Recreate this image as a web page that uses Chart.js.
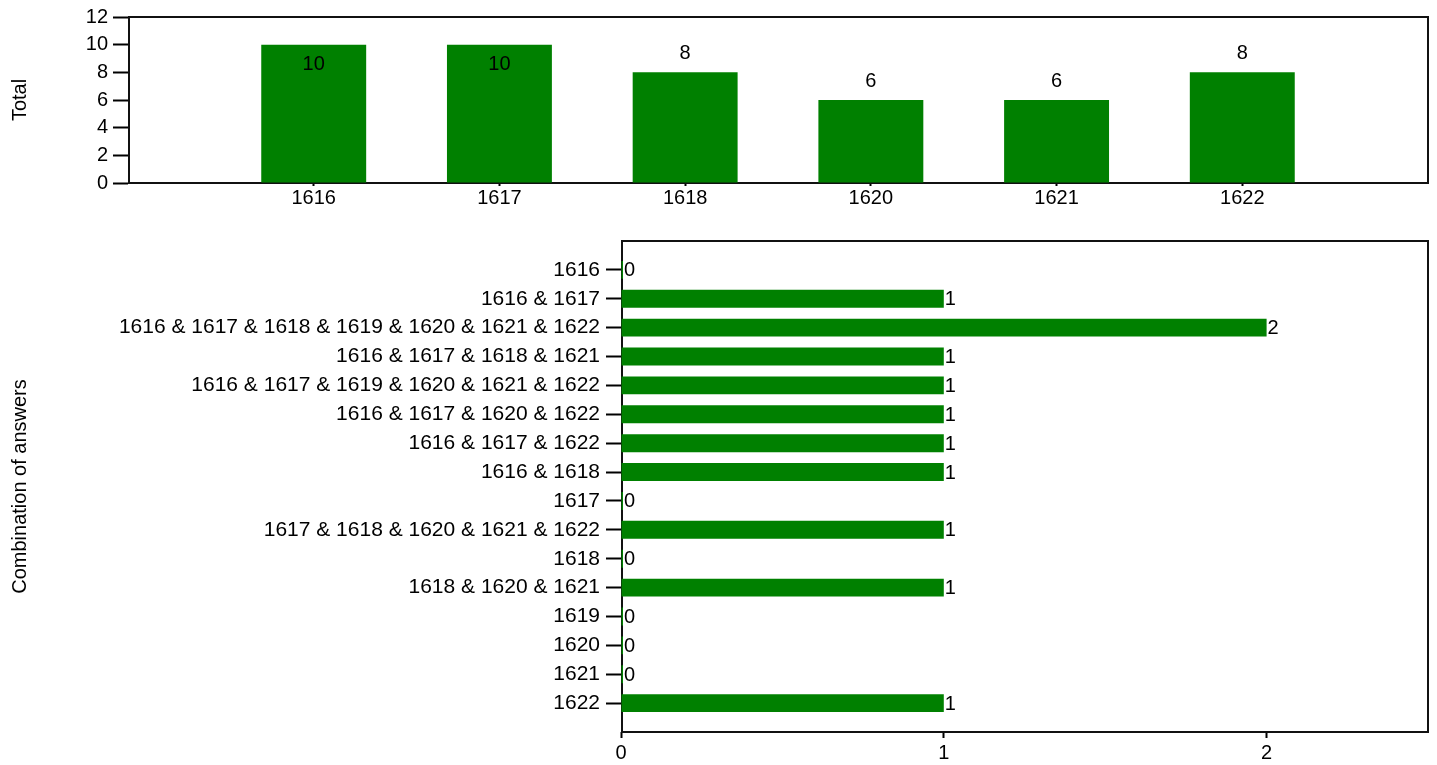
<!DOCTYPE html>
<html>
<head>
<meta charset="utf-8">
<script src="https://cdn.jsdelivr.net/npm/chart.js@4.4.1/dist/chart.umd.min.js"></script>
<style>
  html, body { margin: 0; padding: 0; background: #fff; }
  #wrap { position: relative; width: 1437px; height: 765px; overflow: hidden; }
  canvas { position: absolute; left: 0; }
  #totalChart { top: 0; }
  #comboChart { top: 215px; }
</style>
</head>
<body>
<div id="wrap">
  <canvas id="totalChart" width="1437" height="215"></canvas>
  <canvas id="comboChart" width="1437" height="550"></canvas>
</div>
<script>
// totals per year
const years = ['1616', '1617', '1618', '1620', '1621', '1622'];
const totals = [10, 10, 8, 6, 6, 8];
const totalTicks = [0, 2, 4, 6, 8, 10, 12];

// answer combinations and how often each was given
const combos = [
  '1616',
  '1616 & 1617',
  '1616 & 1617 & 1618 & 1619 & 1620 & 1621 & 1622',
  '1616 & 1617 & 1618 & 1621',
  '1616 & 1617 & 1619 & 1620 & 1621 & 1622',
  '1616 & 1617 & 1620 & 1622',
  '1616 & 1617 & 1622',
  '1616 & 1618',
  '1617',
  '1617 & 1618 & 1620 & 1621 & 1622',
  '1618',
  '1618 & 1620 & 1621',
  '1619',
  '1620',
  '1621',
  '1622',
];
const comboCounts = [0, 1, 2, 1, 1, 1, 1, 1, 0, 1, 0, 1, 0, 0, 0, 1];
const countTicks = [0, 1, 2];

const GREEN = '#008000';
const FONT = '"Liberation Sans", Arial, sans-serif';

Chart.defaults.font.family = FONT;
Chart.defaults.font.size = 20;
Chart.defaults.color = '#000';

// an empty slot at each end leaves a gap of one category before and after the bars
const padCats = (arr) => ['', ...arr, ''];
const padVals = (arr) => [null, ...arr, null];

const hideEmptyTick = (ctx) => (ctx.tick && ctx.tick.label === '' ? 'rgba(0,0,0,0)' : '#000');

const framePlugin = {
  id: 'frame',
  beforeDatasetsDraw(chart) {
    const { ctx, chartArea: a } = chart;
    ctx.save();
    ctx.strokeStyle = '#111';
    ctx.lineWidth = 2;
    ctx.strokeRect(a.left + 1, a.top, a.right - a.left - 1, a.bottom - a.top);
    ctx.restore();
  },
};

const valueLabels = {
  id: 'valueLabels',
  afterDatasetsDraw(chart) {
    const { ctx, chartArea } = chart;
    const horizontal = chart.options.indexAxis === 'y';
    const values = chart.data.datasets[0].data;
    ctx.save();
    ctx.fillStyle = '#000';
    ctx.font = '20px ' + FONT;
    chart.getDatasetMeta(0).data.forEach((bar, i) => {
      const v = values[i];
      if (v == null) return;
      if (horizontal) {
        ctx.textAlign = 'left';
        ctx.textBaseline = 'middle';
        ctx.fillText(String(v), bar.x + 1, bar.y + 1);
      } else {
        ctx.textAlign = 'center';
        ctx.textBaseline = 'alphabetic';
        // tall bars get their label inside the top of the bar
        const inside = bar.y - 30 < chartArea.top;
        ctx.fillText(String(v), bar.x, inside ? bar.y + 25 : bar.y - 13);
      }
    });
    ctx.restore();
  },
};

function axisGrid(len) {
  return {
    display: true,
    offset: false,
    drawOnChartArea: false,
    drawTicks: true,
    tickLength: len,
    tickWidth: 2,
    color: hideEmptyTick,
    tickColor: hideEmptyTick,
  };
}

new Chart(document.getElementById('totalChart'), {
  type: 'bar',
  data: {
    labels: padCats(years),
    datasets: [{
      data: padVals(totals),
      backgroundColor: GREEN,
      borderWidth: 0,
      categoryPercentage: 1,
      barPercentage: 0.565,
    }],
  },
  options: {
    responsive: false,
    animation: false,
    layout: { padding: { top: 17, right: 9, left: 0, bottom: 0 } },
    plugins: { legend: { display: false }, tooltip: { enabled: false } },
    scales: {
      x: {
        offset: false,
        grid: axisGrid(3),
        border: { display: false },
        ticks: { padding: 0, autoSkip: false, maxRotation: 0 },
        afterFit: (s) => { s.height = 32; },
      },
      y: {
        min: 0,
        max: 12,
        grid: axisGrid(15),
        border: { display: false },
        ticks: { padding: 5 },
        afterBuildTicks: (s) => { s.ticks = totalTicks.map((v) => ({ value: v })); },
        title: { display: true, text: 'Total', font: { size: 20 }, padding: { top: 8, bottom: 0 } },
        afterFit: (s) => { s.width = 128; },
      },
    },
  },
  plugins: [framePlugin, valueLabels],
});

new Chart(document.getElementById('comboChart'), {
  type: 'bar',
  data: {
    labels: padCats(combos),
    datasets: [{
      data: padVals(comboCounts),
      backgroundColor: GREEN,
      borderWidth: 0,
      categoryPercentage: 1,
      barPercentage: 0.62,
      minBarLength: 2,
    }],
  },
  options: {
    indexAxis: 'y',
    responsive: false,
    animation: false,
    layout: { padding: { top: 26, right: 9, left: 0, bottom: 0 } },
    plugins: { legend: { display: false }, tooltip: { enabled: false } },
    scales: {
      x: {
        min: 0,
        max: 2.5,
        grid: axisGrid(6),
        border: { display: false },
        ticks: { padding: 3 },
        afterBuildTicks: (s) => { s.ticks = countTicks.map((v) => ({ value: v })); },
        afterFit: (s) => { s.height = 33; },
      },
      y: {
        offset: false,
        grid: axisGrid(15),
        border: { display: false },
        ticks: { padding: 6, autoSkip: false, font: { size: 21 } },
        title: { display: true, text: 'Combination of answers', font: { size: 20 }, padding: { top: 8, bottom: 0 } },
        afterFit: (s) => { s.width = 621; },
      },
    },
  },
  plugins: [framePlugin, valueLabels],
});
</script>
</body>
</html>
